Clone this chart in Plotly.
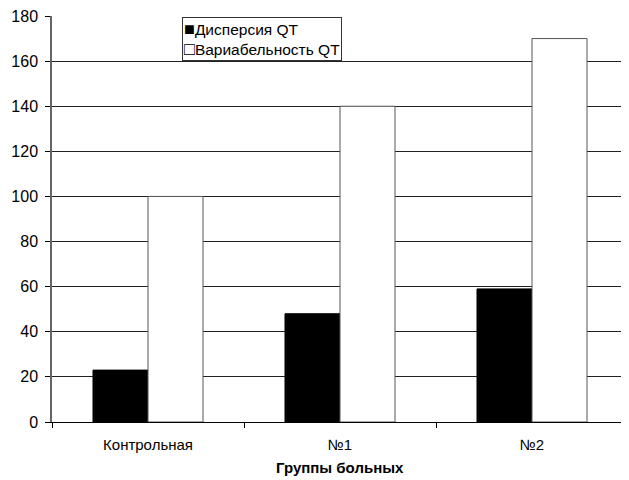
import plotly.graph_objects as go

categories = ["Контрольная", "№1", "№2"]
dispersion = [23, 48, 59]
variability = [100, 140, 170]
y_ticks = [0, 20, 40, 60, 80, 100, 120, 140, 160, 180]
series_names = ["Дисперсия QT", "Вариабельность QT"]
x_title = "Группы больных"

fig = go.Figure()
fig.add_trace(go.Bar(x=categories, y=dispersion, name=series_names[0],
                     marker=dict(color="black", line=dict(color="black", width=1))))
fig.add_trace(go.Bar(x=categories, y=variability, name=series_names[1],
                     marker=dict(color="white", line=dict(color="#555555", width=1))))

FONT = "Liberation Sans, Arial, sans-serif"

# the page body has an 8px margin, so the figure is sized to fit the window
fig.update_layout(
    width=621, height=472,
    margin=dict(l=44, r=1, t=8, b=58, autoexpand=False),
    paper_bgcolor="white", plot_bgcolor="white",
    font=dict(family=FONT, size=15, color="black"),
    barmode="group", bargap=0.427, bargroupgap=0,
    showlegend=False,
    xaxis=dict(
        automargin=False,
        showline=True, linecolor="black", linewidth=1,
        ticks="outside", tickson="boundaries", ticklen=5, tickcolor="black",
        showgrid=False, tickfont=dict(size=15), ticklabelstandoff=9,
    ),
    yaxis=dict(
        automargin=False,
        range=[0, 180], tickvals=y_ticks,
        showline=True, linecolor="#666666", linewidth=1.5,
        ticks="outside", ticklen=5, tickcolor="black",
        showgrid=True, gridcolor="#222222", gridwidth=1,
        tickfont=dict(size=16), zeroline=False, ticklabelstandoff=4,
        ticklabeloverflow="allow",
    ),
    annotations=[
        dict(text="<b>" + x_title + "</b>", xref="paper", yref="paper",
             x=0.5, y=-0.111, xanchor="center", yanchor="middle",
             showarrow=False, font=dict(size=15)),
        dict(text="<span style='font-size:18px'>■</span>" + series_names[0]
                  + "<br><span style='font-size:18px'>□</span>" + series_names[1],
             xref="paper", yref="paper", x=0.2257, y=0.9975,
             xanchor="left", yanchor="top", align="left", showarrow=False,
             bgcolor="white", bordercolor="#333333", borderwidth=1, borderpad=1,
             font=dict(size=15.5)),
    ],
)

fig.write_html("out.html")
